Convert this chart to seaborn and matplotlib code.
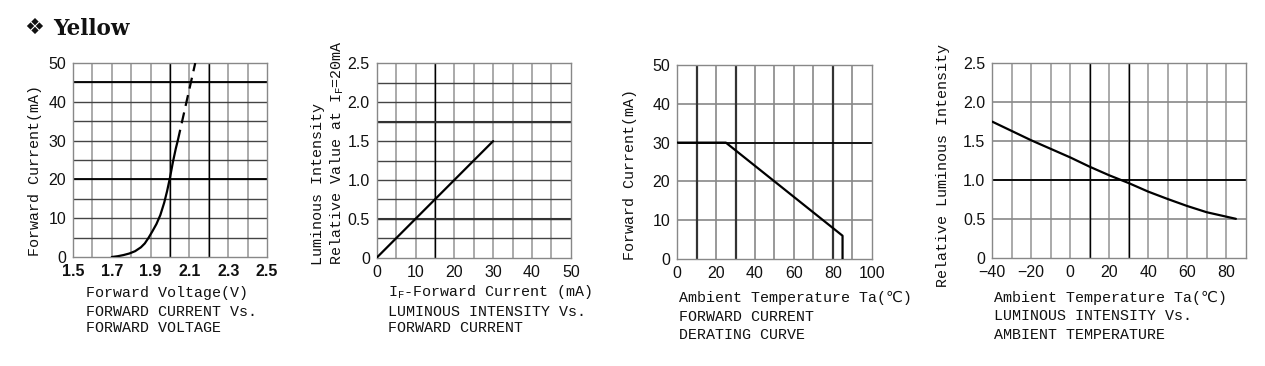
import numpy as np
import pandas as pd
import matplotlib
matplotlib.use('Agg')
import matplotlib.pyplot as plt
import seaborn as sns

# Forward current vs forward voltage
vf_solid = [1.70, 1.73, 1.76, 1.79, 1.82, 1.85, 1.87, 1.89, 1.91, 1.93, 1.95, 1.97, 1.985, 2.00, 2.015, 2.03, 2.04]
if_solid = [0.0, 0.2, 0.5, 0.9, 1.5, 2.5, 3.5, 5.0, 6.7, 8.5, 10.8, 14.0, 17.0, 20.5, 24.5, 28.0, 30.0]
vf_dash = [2.04, 2.13]
if_dash = [30.0, 50.0]

# Luminous intensity vs forward current
if_current = [0, 30]
rel_lum_if = [0.0, 1.5]

# Derating curve
ta_derate = [0, 25, 85, 85]
if_derate = [30, 30, 6, 0]

# Luminous intensity vs ambient temperature
ta_lum = [-40, -30, -20, -10, 0, 10, 20, 30, 40, 50, 60, 70, 85]
rel_lum_ta = [1.75, 1.63, 1.51, 1.40, 1.29, 1.17, 1.06, 0.96, 0.85, 0.755, 0.665, 0.585, 0.50]

sns.set_theme(style='white')
plt.rcParams['font.family'] = ['Liberation Sans', 'DejaVu Sans']
plt.rcParams['mathtext.fontset'] = 'custom'
plt.rcParams['mathtext.rm'] = 'Liberation Mono'
plt.rcParams['mathtext.it'] = 'Liberation Mono'

LBL = dict(family=['Liberation Mono', 'DejaVu Sans'], fontsize=10.8, color='#111111')

fig = plt.figure(figsize=(12.65, 3.66), dpi=100)

def make_ax(rect):
    ax = fig.add_axes(rect)
    for s in ax.spines.values():
        s.set_color('#888888')
        s.set_linewidth(1.0)
    ax.tick_params(length=0, pad=5, labelsize=11.5, colors='#111111')
    return ax

def grid(ax, xs, ys, xc, yc, xlw, ylw, heavy_x=(), heavy_y=(), hxc='black', hyc='black', hxlw=1.0, hylw=1.3):
    for v in xs:
        ax.axvline(v, color=xc, lw=xlw, zorder=0)
    for v in ys:
        ax.axhline(v, color=yc, lw=ylw, zorder=0)
    for v in heavy_x:
        ax.axvline(v, color=hxc, lw=hxlw, zorder=1)
    for v in heavy_y:
        ax.axhline(v, color=hyc, lw=hylw, zorder=1)

def curve(ax, x, y, **kw):
    sns.lineplot(x=x, y=y, ax=ax, color='black', lw=1.6, sort=False, estimator=None, zorder=3, **kw)

# Panel 1
ax1 = make_ax([0.0577, 0.2978, 0.1534, 0.530])
grid(ax1, np.arange(1.6, 2.45, 0.1), np.arange(5, 50, 5), '#aaaaaa', '#444444', 1.4, 1.0,
     heavy_x=[2.0, 2.2], heavy_y=[20, 45])
curve(ax1, vf_solid, if_solid)
curve(ax1, vf_dash, if_dash, linestyle=(0, (5, 3)))
ax1.set_xlim(1.5, 2.5)
ax1.set_ylim(0, 50)
ax1.set_xticks([1.5, 1.7, 1.9, 2.1, 2.3, 2.5])
ax1.set_xticklabels(['1.5', '1.7', '1.9', '2.1', '2.3', '2.5'], fontweight='bold')
ax1.set_yticks([0, 10, 20, 30, 40, 50])

# Panel 2
ax2 = make_ax([0.2978, 0.2959, 0.1534, 0.531])
grid(ax2, np.arange(5, 50, 5), np.arange(0.25, 2.5, 0.25), '#aaaaaa', '#444444', 1.4, 1.0,
     heavy_x=[15], heavy_y=[0.5, 1.75], hylw=1.5, hyc='#333333')
curve(ax2, if_current, rel_lum_if)
ax2.set_xlim(0, 50)
ax2.set_ylim(0, 2.5)
ax2.set_xticks([0, 10, 20, 30, 40, 50])
ax2.set_yticks([0, 0.5, 1.0, 1.5, 2.0, 2.5])
ax2.set_yticklabels(['0', '0.5', '1.0', '1.5', '2.0', '2.5'])

# Panel 3
ax3 = make_ax([0.5354, 0.2923, 0.1537, 0.530])
grid(ax3, np.arange(10, 100, 10), np.arange(10, 50, 10), '#999999', '#888888', 1.4, 1.2,
     heavy_x=[10, 30, 80], heavy_y=[30], hxc='#333333', hxlw=1.6, hylw=1.2)
curve(ax3, ta_derate, if_derate)
ax3.set_xlim(0, 100)
ax3.set_ylim(0, 50)
ax3.set_xticks([0, 20, 40, 60, 80, 100])
ax3.set_yticks([0, 10, 20, 30, 40, 50])

# Panel 4
ax4 = make_ax([0.7844, 0.2959, 0.2003, 0.531])
grid(ax4, np.arange(-30, 90, 10), np.arange(0.5, 2.5, 0.5), '#aaaaaa', '#888888', 1.4, 1.2,
     heavy_x=[10, 30], heavy_y=[1.0], hylw=1.3)
curve(ax4, ta_lum, rel_lum_ta)
ax4.set_xlim(-40, 90)
ax4.set_ylim(0, 2.5)
ax4.set_xticks([-40, -20, 0, 20, 40, 60, 80])
ax4.set_yticks([0, 0.5, 1.0, 1.5, 2.0, 2.5])
ax4.set_yticklabels(['0', '0.5', '1.0', '1.5', '2.0', '2.5'])

for ax in (ax1, ax2, ax3, ax4):
    ax.set_xlabel('')
    ax.set_ylabel('')

# axis titles / captions
fig.text(0.0277, 0.533, 'Forward Current(mA)', rotation=90, ha='center', va='center', **LBL)
fig.text(0.2514, 0.276, 'Luminous Intensity', rotation=90, ha='center', va='bottom', **LBL)
fig.text(0.2664, 0.276, r'Relative Value at I$_\mathrm{F}$=20mA', rotation=90, ha='center', va='bottom', **LBL)
fig.text(0.4980, 0.522, 'Forward Current(mA)', rotation=90, ha='center', va='center', **LBL)
fig.text(0.7455, 0.548, 'Relative Luminous Intensity', rotation=90, ha='center', va='center', **LBL)

caps = [
    (0.068, [0.1995, 0.148, 0.104], ['Forward Voltage(V)', 'FORWARD CURRENT Vs.', 'FORWARD VOLTAGE']),
    (0.3067, [0.202, 0.148, 0.104], [r'I$_\mathrm{F}$-Forward Current (mA)', 'LUMINOUS INTENSITY Vs.', 'FORWARD CURRENT']),
    (0.5368, [0.186, 0.134, 0.085], ['Ambient Temperature Ta(\u2103)', 'FORWARD CURRENT', 'DERATING CURVE']),
    (0.7858, [0.186, 0.137, 0.085], ['Ambient Temperature Ta(\u2103)', 'LUMINOUS INTENSITY Vs.', 'AMBIENT TEMPERATURE']),
]
for x, ys, lines in caps:
    for y, t in zip(ys, lines):
        fig.text(x, y, t, ha='left', va='center', **LBL)

fig.text(0.019, 0.923, '\u2756', ha='left', va='center', family=['DejaVu Sans'], fontsize=16, color='#111111')
fig.text(0.0419, 0.921, 'Yellow', ha='left', va='center', family=['DejaVu Serif'],
         fontweight='bold', fontsize=15.5, color='#111111')

fig.savefig('out.png', dpi=100, facecolor='white')
